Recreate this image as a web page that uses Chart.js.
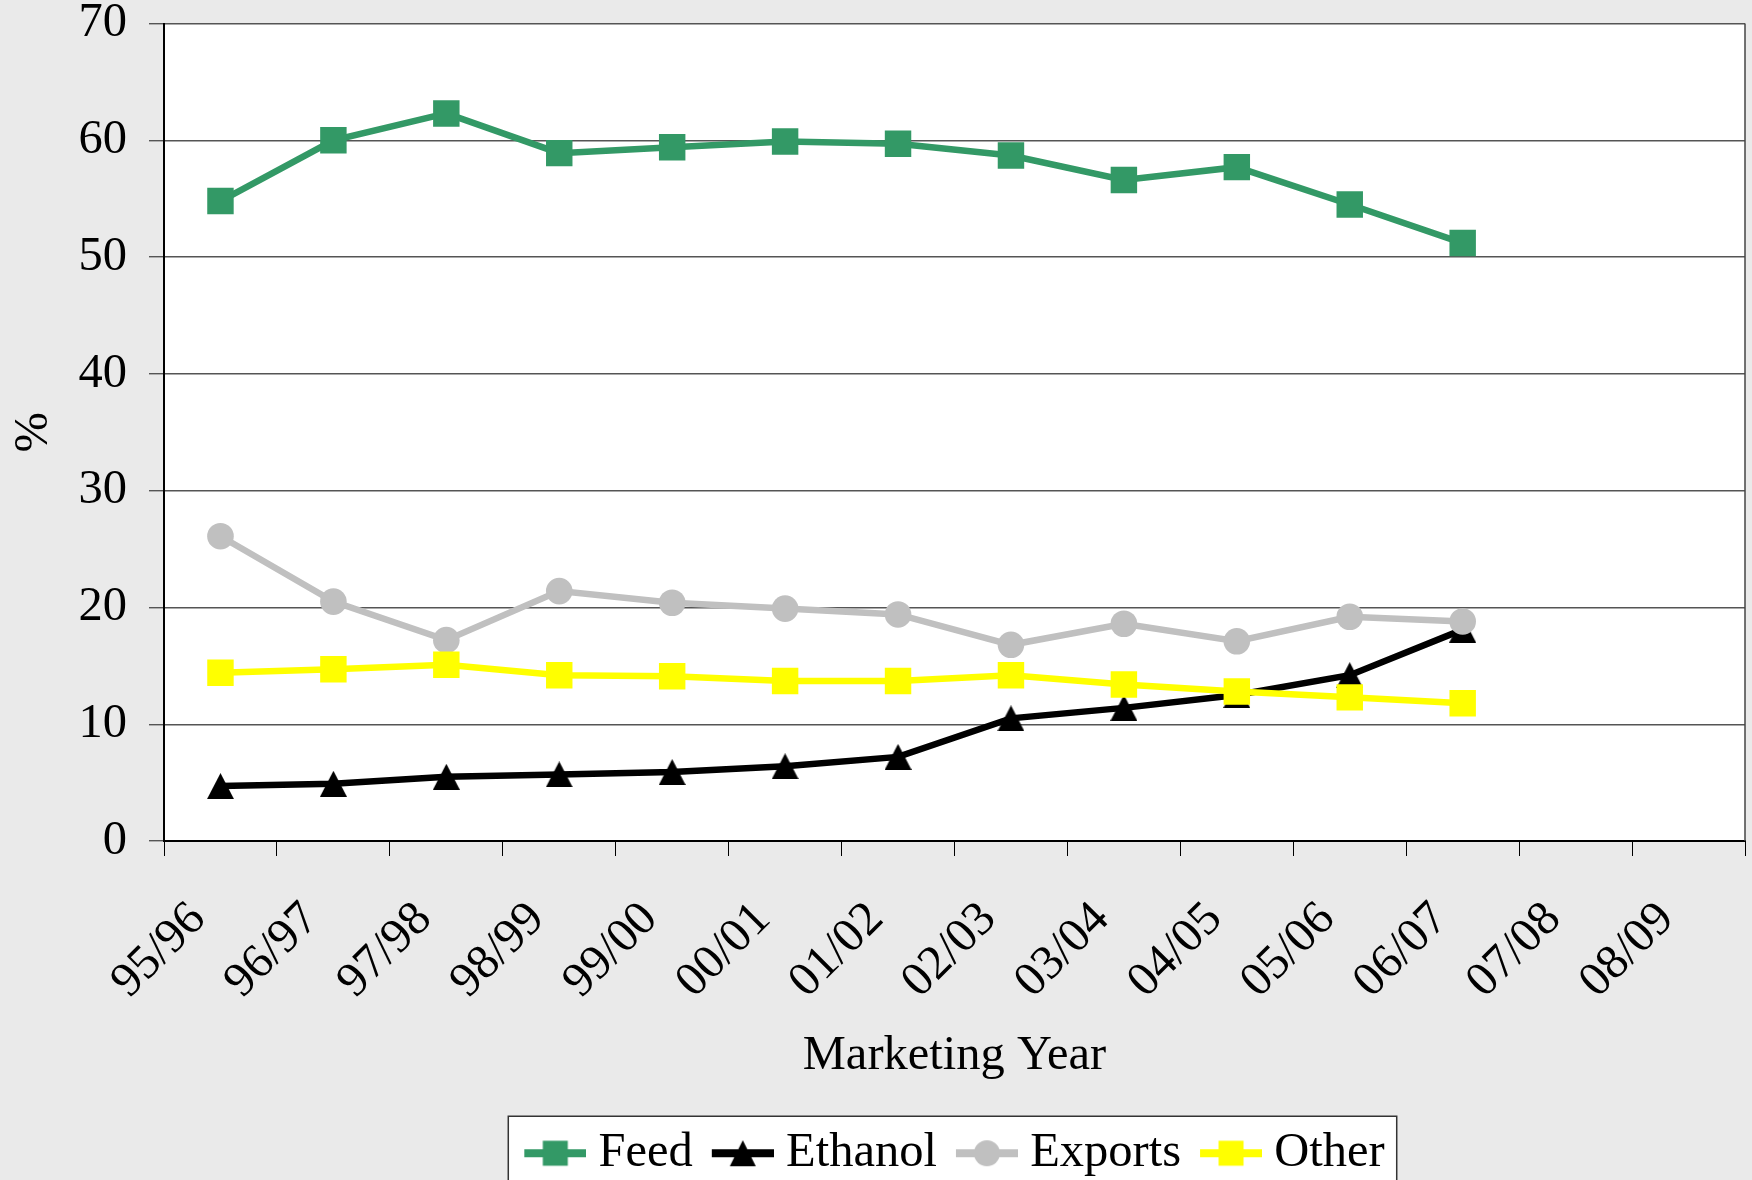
<!DOCTYPE html>
<html>
<head>
<meta charset="utf-8">
<script src="https://cdn.jsdelivr.net/npm/chart.js@4.4.1/dist/chart.umd.min.js"></script>
<style>
html, body { margin: 0; padding: 0; background: #eaeaea; overflow: hidden; }
#wrap { width: 1752px; height: 1180px; }
</style>
</head>
<body>
<div id="wrap"><canvas id="chart"></canvas></div>
<script>
var years = ["95/96", "96/97", "97/98", "98/99", "99/00", "00/01", "01/02",
             "02/03", "03/04", "04/05", "05/06", "06/07", "07/08", "08/09"];
var feed    = [54.8, 60.0, 62.3, 58.9, 59.4, 59.9, 59.7, 58.7, 56.6, 57.7, 54.5, 51.2];
var ethanol = [4.7, 4.9, 5.5, 5.7, 5.9, 6.4, 7.2, 10.5, 11.4, 12.5, 14.2, 18.1];
var exportsPct = [26.1, 20.5, 17.2, 21.4, 20.4, 19.9, 19.4, 16.8, 18.6, 17.1, 19.2, 18.8];
var other   = [14.4, 14.7, 15.1, 14.2, 14.1, 13.7, 13.7, 14.2, 13.4, 12.8, 12.3, 11.8];
var yTicks  = [0, 10, 20, 30, 40, 50, 60, 70];

var serif = "'Liberation Serif', 'Times New Roman', 'DejaVu Serif', serif";
var fs = 48.5;

// triangle marker with its box centred on the point
function triangleMarker(color) {
	var c = document.createElement("canvas");
	c.width = 27;
	c.height = 26;
	var g = c.getContext("2d");
	g.fillStyle = color;
	g.beginPath();
	g.moveTo(13.5, 0);
	g.lineTo(27, 26);
	g.lineTo(0, 26);
	g.closePath();
	g.fill();
	return c;
}

// little "line + marker" pictures for the legend, like the spreadsheet one
// (drawn 12px right of centre so the visible part starts at the item's left edge)
function legendMarker(color, style) {
	var c = document.createElement("canvas");
	c.width = 74;
	c.height = 30;
	var g = c.getContext("2d");
	var ox = 12;
	g.fillStyle = color;
	g.fillRect(ox, 11, 62, 8);
	g.beginPath();
	if (style === "rect") {
		g.rect(ox + 18.5, 2.5, 25, 25);
	} else if (style === "triangle") {
		g.moveTo(ox + 31, 2);
		g.lineTo(ox + 44, 28);
		g.lineTo(ox + 18, 28);
		g.closePath();
	} else {
		g.arc(ox + 31, 15, 13, 0, Math.PI * 2);
	}
	g.fill();
	return c;
}

var chartBg = {
	id: "chartBg",
	beforeDraw: function (chart) {
		var ctx = chart.ctx, a = chart.chartArea;
		ctx.save();
		ctx.fillStyle = "#eaeaea";
		ctx.fillRect(0, 0, chart.width, chart.height);
		ctx.fillStyle = "#ffffff";
		ctx.fillRect(a.left, a.top, a.right - a.left, a.bottom - a.top);

		// legend frame
		var hb = chart.legend.legendHitBoxes;
		if (hb && hb.length) {
			var first = hb[0], last = hb[hb.length - 1];
			var cy = first.top + first.height / 2;
			var x0 = first.left - 16, x1 = last.left + last.width + 12;
			var y0 = cy - 37;
			ctx.fillStyle = "#ffffff";
			ctx.fillRect(x0, y0, x1 - x0, chart.height + 10 - y0);
			ctx.strokeStyle = "#333";
			ctx.lineWidth = 1.5;
			ctx.strokeRect(x0, y0, x1 - x0, chart.height + 10 - y0);
		}
		ctx.restore();
	},
	beforeDatasetsDraw: function (chart) {
		var ctx = chart.ctx, a = chart.chartArea;
		ctx.save();
		ctx.strokeStyle = "#444";
		ctx.lineWidth = 1.5;
		ctx.beginPath();
		ctx.moveTo(a.right, a.top);
		ctx.lineTo(a.right, a.bottom);
		ctx.stroke();
		ctx.restore();
	}
};

var markers = [
	legendMarker("#339966", "rect"),
	legendMarker("#000000", "triangle"),
	legendMarker("#c0c0c0", "circle"),
	legendMarker("#ffff00", "rect")
];

var data = {
	labels: years,
	datasets: [
		{
			label: "Feed",
			data: feed,
			borderColor: "#339966",
			backgroundColor: "#339966",
			borderWidth: 6.5,
			pointStyle: "rect",
			pointRadius: 18.7,
			pointBorderWidth: 0,
			order: 4
		},
		{
			label: "Ethanol",
			data: ethanol,
			borderColor: "#000000",
			backgroundColor: "#000000",
			borderWidth: 6.5,
			pointStyle: triangleMarker("#000000"),
			pointRadius: 13,
			pointBorderWidth: 0,
			order: 3
		},
		{
			label: "Exports",
			data: exportsPct,
			borderColor: "#c0c0c0",
			backgroundColor: "#c0c0c0",
			borderWidth: 6.5,
			pointStyle: "circle",
			pointRadius: 13.3,
			pointBorderWidth: 0,
			order: 2
		},
		{
			label: "Other",
			data: other,
			borderColor: "#ffff00",
			backgroundColor: "#ffff00",
			borderWidth: 6.5,
			pointStyle: "rect",
			pointRadius: 18.7,
			pointBorderWidth: 0,
			order: 1
		}
	]
};

var options = {
	responsive: true,
	maintainAspectRatio: false,
	animation: false,
	layout: {
		autoPadding: false,
		padding: { left: 0, right: 7, top: 23.5, bottom: -7.5 }
	},
	plugins: {
		tooltip: { enabled: false },
		legend: {
			display: true,
			position: "bottom",
			fullSize: false,
			labels: {
				usePointStyle: true,
				pointStyleWidth: 50,
				padding: 19,
				color: "#000",
				font: { family: serif, size: fs },
				generateLabels: function (chart) {
					return chart.data.datasets.map(function (ds, i) {
						return {
							text: ds.label,
							datasetIndex: i,
							pointStyle: markers[i],
							fillStyle: ds.backgroundColor,
							strokeStyle: ds.borderColor,
							lineWidth: 0,
							hidden: false,
							fontColor: "#000"
						};
					});
				}
			}
		}
	},
	scales: {
		x: {
			offset: true,
			afterFit: function (scale) {
				scale.height = 269;
				scale.paddingLeft = 0;
				scale.paddingRight = 0;
			},
			grid: {
				offset: true,
				drawOnChartArea: false,
				drawTicks: true,
				tickLength: 15,
				color: "#000"
			},
			border: { color: "#000", width: 2 },
			ticks: {
				autoSkip: false,
				minRotation: 45,
				maxRotation: 45,
				padding: 35,
				labelOffset: -22,
				color: "#000",
				font: { family: serif, size: fs }
			},
			title: {
				display: true,
				text: "Marketing Year",
				color: "#000",
				font: { family: serif, size: fs },
				padding: { top: 0, bottom: 25 }
			}
		},
		y: {
			min: 0,
			max: 70,
			afterFit: function (scale) {
				scale.width = 164;
				scale.paddingTop = 0;
				scale.paddingBottom = 0;
			},
			afterBuildTicks: function (scale) {
				scale.ticks = yTicks.map(function (v) { return { value: v }; });
			},
			grid: {
				color: "#555",
				lineWidth: 1.4,
				tickLength: 15
			},
			border: { color: "#000", width: 2 },
			ticks: {
				padding: 22,
				color: "#000",
				font: { family: serif, size: fs }
			},
			title: {
				display: true,
				text: "%",
				color: "#000",
				font: { family: serif, size: fs },
				padding: { top: 5, bottom: 0 }
			}
		}
	}
};

var chart = new Chart(document.getElementById("chart"), {
	type: "line",
	data: data,
	options: options,
	plugins: [chartBg]
});
</script>
</body>
</html>
